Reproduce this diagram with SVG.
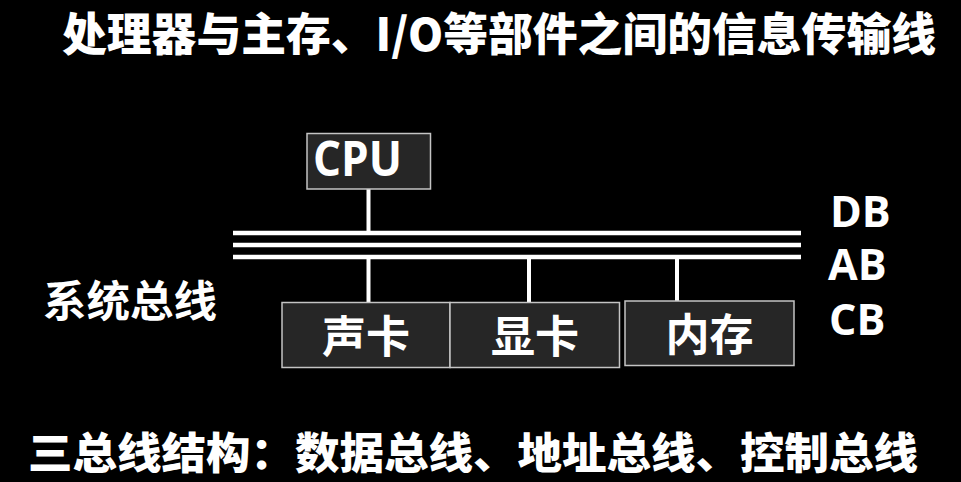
<svg xmlns="http://www.w3.org/2000/svg" width="961" height="482" viewBox="0 0 961 482">
<style>
.cjk{font-family:"Noto Sans CJK SC","Noto Sans",sans-serif;font-weight:bold;fill:#fff}
.heavy{font-weight:900}
.lat{font-family:"Open Sans","Noto Sans",sans-serif;font-weight:bold;fill:#fff}
.box{fill:#262626;stroke:#c4c4c4;stroke-width:1.5}
.bus{stroke:#fff;stroke-width:4.5;fill:none}
.wire{stroke:#fff;stroke-width:4;fill:none}
</style>
<rect x="0" y="0" width="961" height="482" fill="#000"/>
<text class="cjk heavy" x="62" y="51" font-size="45" textLength="874" lengthAdjust="spacingAndGlyphs">处理器与主存、I/O等部件之间的信息传输线</text>
<g id="connectors">
<line class="bus" x1="233" y1="233" x2="801" y2="233"/>
<line class="bus" x1="233" y1="245" x2="801" y2="245"/>
<line class="bus" x1="233" y1="257" x2="801" y2="257"/>
<line class="wire" x1="368.5" y1="189" x2="368.5" y2="233"/>
<line class="wire" x1="368.5" y1="257" x2="368.5" y2="302"/>
<line class="wire" x1="529" y1="257" x2="529" y2="302"/>
<line class="wire" x1="677" y1="257" x2="677" y2="301"/>
</g>
<g id="cpu">
<rect class="box" x="307" y="133.5" width="123.5" height="55.5"/>
<text class="lat" x="313" y="176" font-size="48" textLength="89" lengthAdjust="spacingAndGlyphs">CPU</text>
</g>
<g id="sound">
<rect class="box" x="282" y="302.5" width="168" height="65"/>
<text class="cjk" x="366" y="353" font-size="44" text-anchor="middle">声卡</text>
</g>
<g id="video">
<rect class="box" x="450" y="302.5" width="169.5" height="65"/>
<text class="cjk" x="535" y="353" font-size="44" text-anchor="middle">显卡</text>
</g>
<g id="memory">
<rect class="box" x="625" y="301" width="169" height="64.5"/>
<text class="cjk" x="709.5" y="351" font-size="44" text-anchor="middle">内存</text>
</g>
<g id="labels">
<text class="lat" x="830" y="227" font-size="43">DB</text>
<text class="lat" x="828" y="280" font-size="43">AB</text>
<text class="lat" x="829" y="335" font-size="43">CB</text>
<text class="cjk" x="43" y="317" font-size="43" textLength="174" lengthAdjust="spacingAndGlyphs">系统总线</text>
</g>
<text class="cjk heavy" x="28" y="469" font-size="43" textLength="890" lengthAdjust="spacingAndGlyphs">三总线结构：数据总线、地址总线、控制总线</text>
</svg>
